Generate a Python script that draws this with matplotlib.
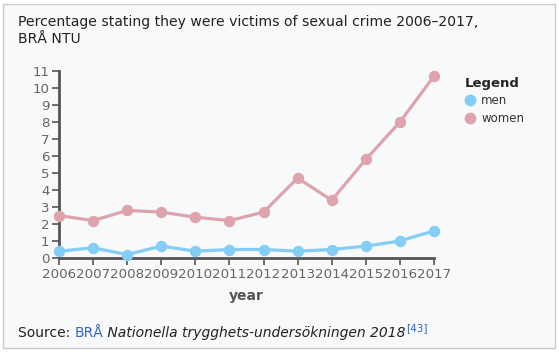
import matplotlib
matplotlib.use("Agg")
import matplotlib.pyplot as plt
from matplotlib.patches import Rectangle
from matplotlib.lines import Line2D

# data
years = [2006, 2007, 2008, 2009, 2010, 2011, 2012, 2013, 2014, 2015, 2016, 2017]
men   = [0.4, 0.6, 0.2, 0.7, 0.4, 0.5, 0.5, 0.4, 0.5, 0.7, 1.0, 1.6]
women = [2.5, 2.2, 2.8, 2.7, 2.4, 2.2, 2.7, 4.7, 3.4, 5.8, 8.0, 10.7]
series_names = ["men", "women"]
y_ticks = list(range(0, 12))

W, H = 559, 356
C_MEN = "#84cdf6"
C_WOMEN = "#dea3ad"
C_AXIS = "#555555"

plt.rcParams["font.family"] = ["DejaVu Sans"]
fig = plt.figure(figsize=(W / 100, H / 100), dpi=100, facecolor="white")

# thumbnail frame
fig.patches.append(Rectangle((3 / W, 1 - 348 / H), 552 / W, 344 / H,
                             transform=fig.transFigure, facecolor="#f8f9fa",
                             edgecolor="#c8ccd1", linewidth=1, zorder=-5))

ax = fig.add_axes([59 / W, 1 - 258 / H, (434 - 59) / W, (258 - 71) / H])
ax.set_facecolor("none")
ax.plot(years, men, color=C_MEN, lw=2.3, marker="o", ms=7.2, clip_on=False, zorder=3)
ax.plot(years, women, color=C_WOMEN, lw=2.3, marker="o", ms=7.2, clip_on=False, zorder=3)
ax.set_xlim(years[0], years[-1])
ax.set_ylim(0, 11)
ax.set_xticks(years)
ax.set_xticklabels([str(y) for y in years])
ax.set_yticks(y_ticks)
for s in ["top", "right"]:
    ax.spines[s].set_visible(False)
for s in ["left", "bottom"]:
    ax.spines[s].set_color(C_AXIS)
    ax.spines[s].set_linewidth(2)
ax.tick_params(axis="both", colors=C_AXIS, labelcolor="#666666", width=1.2,
               length=5, labelsize=9.6, pad=2)
ax.set_xlabel("year", fontsize=10, fontweight="bold", color="#555555", labelpad=6)

# legend
fig.text(465 / W, 1 - 83 / H, "Legend", fontsize=9.5, fontweight="bold",
         color="#222222", va="center")
for i, (name, c) in enumerate(zip(series_names, [C_MEN, C_WOMEN])):
    yy = 1 - (100 + 18 * i) / H
    fig.lines.append(Line2D([470 / W], [yy], transform=fig.transFigure,
                            marker="o", ms=7.5, color=c, lw=0))
    fig.text(481 / W, yy, name, fontsize=8.5, color="#333333", va="center")

# title
fig.text(18 / W, 1 - 26 / H, "Percentage stating they were victims of sexual crime 2006\u20132017,",
         fontsize=10.1, color="#222222", va="baseline")
fig.text(18 / W, 1 - 43 / H, "BR\u00c5 NTU", fontsize=10.1, color="#222222", va="baseline")

# source line built piece by piece
renderer = fig.canvas.get_renderer()
x = 18
yb = 1 - 337 / H
parts = [("Source: ", "#222222", "normal", 10, 0),
         ("BR\u00c5", "#3366bb", "normal", 10, 0),
         (" Nationella trygghets-unders\u00f6kningen 2018", "#222222", "italic", 10, 0),
         ("[43]", "#3366bb", "normal", 7.5, 6)]
for txt, col, style, fs, rise in parts:
    t = fig.text(x / W, yb + rise / H, txt, fontsize=fs, color=col, style=style,
                 va="baseline")
    x += t.get_window_extent(renderer).width

fig.savefig("out.png", dpi=100, facecolor="white")
